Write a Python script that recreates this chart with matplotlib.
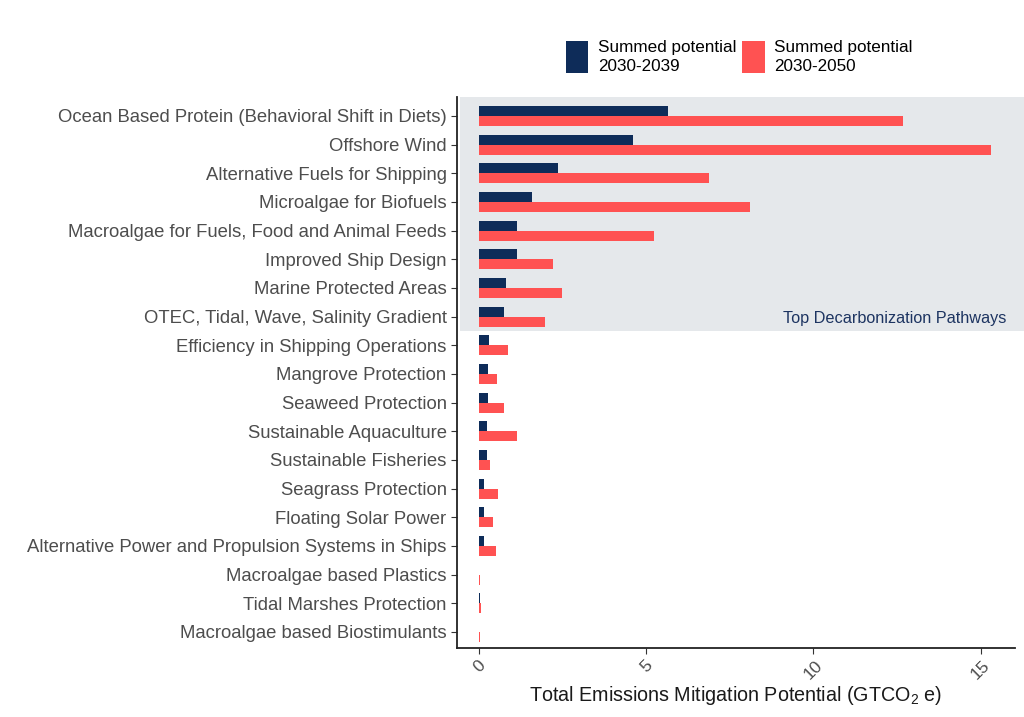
import matplotlib
matplotlib.use("Agg")
import matplotlib.pyplot as plt
from matplotlib.patches import Rectangle, Patch
import numpy as np

# datos (GtCO2e)
categories = [
    'Ocean Based Protein (Behavioral Shift in Diets)',
    'Offshore Wind',
    'Alternative Fuels for Shipping',
    'Microalgae for Biofuels',
    'Macroalgae for Fuels, Food and Animal Feeds',
    'Improved Ship Design',
    'Marine Protected Areas',
    'OTEC, Tidal, Wave, Salinity Gradient',
    'Efficiency in Shipping Operations',
    'Mangrove Protection',
    'Seaweed Protection',
    'Sustainable Aquaculture',
    'Sustainable Fisheries',
    'Seagrass Protection',
    'Floating Solar Power',
    'Alternative Power and Propulsion Systems in Ships',
    'Macroalgae based Plastics',
    'Tidal Marshes Protection',
    'Macroalgae based Biostimulants',
]
potential_2039 = [5.66, 4.61, 2.35, 1.57, 1.12, 1.12, 0.80, 0.74, 0.29, 0.27,
                  0.25, 0.24, 0.22, 0.14, 0.14, 0.14, 0.005, 0.01, 0.004]
potential_2050 = [12.69, 15.30, 6.88, 8.11, 5.24, 2.20, 2.49, 1.96, 0.87, 0.53,
                  0.74, 1.14, 0.32, 0.57, 0.42, 0.50, 0.02, 0.04, 0.02]
legend_labels = ['Summed potential\n2030-2039', 'Summed potential\n2030-2050']
xticks = [0, 5, 10, 15]
n_top = 8  # las primeras 8 son "Top Decarbonization Pathways"

NAVY = '#0e2c59'
RED = '#ff5252'
GREY_BOX = '#e5e8eb'
TXT = '#4d4d4d'

plt.rcParams['font.family'] = ['Liberation Sans', 'DejaVu Sans']
plt.rcParams['mathtext.fontset'] = 'custom'
plt.rcParams['mathtext.rm'] = 'Liberation Sans'
plt.rcParams['mathtext.it'] = 'Liberation Sans:italic'


def plot_pathways(ax):
    y = np.arange(len(categories))
    h = 0.35
    ax.barh(y - h / 2, potential_2039, height=h, color=NAVY, zorder=3)
    ax.barh(y + h / 2, potential_2050, height=h, color=RED, zorder=3)

    ax.set_xlim(-0.664, 16.03)
    ax.set_ylim(len(categories) - 1 + 0.56, -0.66)

    # caja gris de las top pathways (se sale un poco por la derecha)
    box = Rectangle((-0.58, -0.66), 16.9, n_top - 0.5 + 0.66,
                    facecolor=GREY_BOX, edgecolor='none', zorder=1, clip_on=False)
    ax.add_patch(box)
    ax.text(15.78, n_top - 1 + 0.05, 'Top Decarbonization Pathways', color='#1d3461',
            fontsize=11.7, ha='right', va='center', zorder=4)

    ax.set_yticks(y)
    ax.set_yticklabels(categories, fontsize=13.3, color=TXT)
    ax.set_xticks(xticks)
    ax.set_xticklabels([str(t) for t in xticks], rotation=45, ha='center',
                       fontsize=12.5, color=TXT)
    ax.tick_params(axis='both', length=4, width=0.8, color='#333333')
    ax.tick_params(axis='x', pad=3)
    ax.set_xlabel('Total Emissions Mitigation Potential (GTCO$_2$ e)',
                  fontsize=14.2, color='#1a1a1a', labelpad=1.5)

    for side in ['top', 'right']:
        ax.spines[side].set_visible(False)
    for side in ['left', 'bottom']:
        ax.spines[side].set_color('#222222')
        ax.spines[side].set_linewidth(1.3)


fig = plt.figure(figsize=(10.24, 7.17), dpi=100)
ax = fig.add_axes([0.4463, 0.0962, 0.5449, 0.7685])
plot_pathways(ax)

handles = [Patch(facecolor=NAVY), Patch(facecolor=RED)]
leg = fig.legend(handles, legend_labels, ncol=2, loc='center left',
                 bbox_to_anchor=(0.538, 0.921), frameon=False, fontsize=12.3,
                 handlelength=1.3, handleheight=2.5, handletextpad=0.55,
                 columnspacing=0.35, labelspacing=0.2)
for t in leg.get_texts():
    t.set_linespacing(1.35)

fig.savefig('out.png', dpi=100)
